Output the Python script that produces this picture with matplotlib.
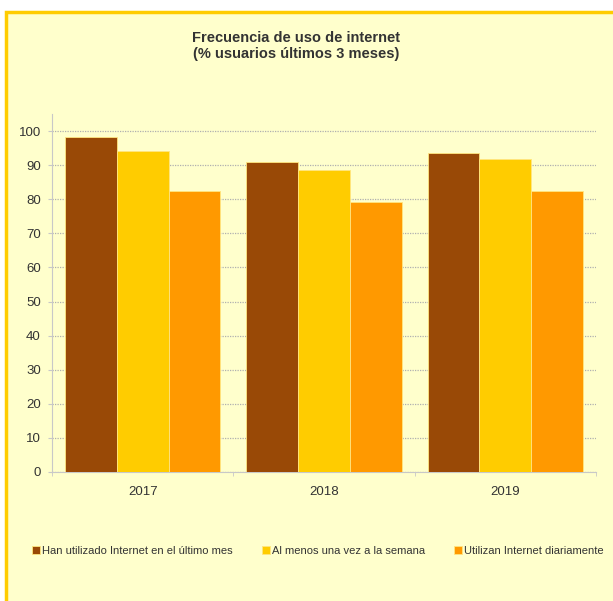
import numpy as np
import matplotlib.pyplot as plt
from matplotlib.patches import Rectangle

plt.rcParams['font.family'] = ['Liberation Sans', 'DejaVu Sans']

years = ['2017', '2018', '2019']
series_names = ['Han utilizado Internet en el último mes',
                'Al menos una vez a la semana',
                'Utilizan Internet diariamente']
mes = [98.4, 90.9, 93.6]
semana = [94.2, 88.6, 91.7]
diario = [82.5, 79.3, 82.5]
colors = ['#994906', '#ffcc00', '#ff9900']

fig = plt.figure(figsize=(6.13, 6.01), dpi=100)
fig.patch.set_facecolor('white')

# marco amarillo
frame = Rectangle((6 / 613, -0.05), 1.1, 1 - 12 / 601 + 0.05, transform=fig.transFigure,
                  facecolor='#ffffcc', edgecolor='#ffcc00', linewidth=2.5, zorder=-1)
fig.patches.append(frame)

ax = fig.add_axes([52 / 613, 1 - 472 / 601, (596 - 52) / 613, (472 - 114) / 601])
ax.set_facecolor('none')
ax.set_zorder(1)

x = np.arange(len(years))
w = 0.285
for i, vals in enumerate([mes, semana, diario]):
    ax.bar(x + (i - 1) * w, vals, width=w, color=colors[i], label=series_names[i],
           edgecolor='#ffe680', linewidth=0.6, zorder=3)

ax.set_xlim(-0.5, 2.5)
ax.set_ylim(0, 105)
ax.set_yticks(range(0, 101, 10))
ax.set_xticks(x)
ax.set_xticklabels(years)
ax.set_xticks([-0.5, 0.5, 1.5, 2.5], minor=True)
ax.tick_params(axis='x', which='major', length=0, pad=10, labelsize=9.5, colors='#333333')
ax.tick_params(axis='x', which='minor', length=3, color='#c8c8c8')
ax.tick_params(axis='y', length=3, color='#c8c8c8', labelsize=9.5, labelcolor='#333333', pad=5)

ax.grid(axis='y', linestyle=(0, (1, 1)), color='#b0b0b0', linewidth=0.9, zorder=0)
for s in ['top', 'right']:
    ax.spines[s].set_visible(False)
ax.spines['left'].set_color('#c8c8c8')
ax.spines['bottom'].set_color('#c8c8c8')

fig.text(296 / 613, 1 - 46 / 601, 'Frecuencia de uso de internet\n(% usuarios últimos 3 meses)',
         ha='center', va='center', fontsize=10.5, fontweight='bold', color='#333333',
         linespacing=1.2)

fig.legend(loc='center', bbox_to_anchor=(318 / 613, 1 - 551 / 601), ncol=3, frameon=False,
           fontsize=8, handlelength=0.7, handleheight=0.7, handletextpad=0.2,
           columnspacing=2.6, labelcolor='#333333')

fig.savefig('out.png', dpi=100, facecolor='white')
